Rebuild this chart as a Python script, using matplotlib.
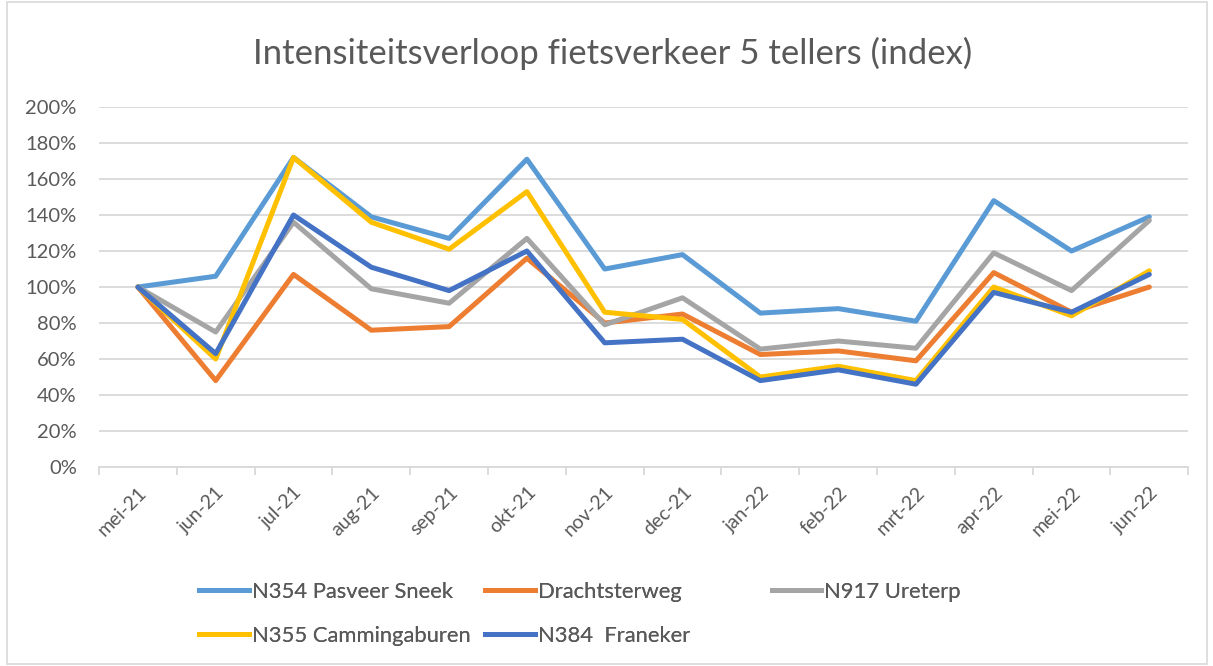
import matplotlib
matplotlib.use("Agg")
import matplotlib.pyplot as plt
from matplotlib.patches import Rectangle
from matplotlib.lines import Line2D

plt.rcParams['font.family'] = ['Lato', 'DejaVu Sans']

maanden = ["mei-21", "jun-21", "jul-21", "aug-21", "sep-21", "okt-21", "nov-21",
           "dec-21", "jan-22", "feb-22", "mrt-22", "apr-22", "mei-22", "jun-22"]

# index (100% = mei-21)
n354_pasveer_sneek = [100, 106, 172, 139, 127, 171, 110, 118, 85.5, 88, 81, 148, 120, 139]
drachtsterweg = [100, 48, 107, 76, 78, 116, 80, 85, 62.5, 64.5, 59, 108, 86, 100]
n917_ureterp = [100, 75, 136, 99, 91, 127, 79, 94, 65.5, 70, 66, 119, 98, 137]
n355_cammingaburen = [100, 60, 172, 136, 121, 153, 86, 82, 50, 56, 48, 100, 84, 109]
n384_franeker = [100, 63, 140, 111, 98, 120, 69, 71, 48, 54, 46, 97, 86, 107]

namen = ["N354 Pasveer Sneek", "Drachtsterweg", "N917 Ureterp",
         "N355 Cammingaburen", "N384  Franeker"]
reeksen = [n354_pasveer_sneek, drachtsterweg, n917_ureterp, n355_cammingaburen, n384_franeker]
kleuren = ["#5B9BD5", "#ED7D31", "#A5A5A5", "#FFC000", "#4472C4"]

fig = plt.figure(figsize=(12.13, 6.66), dpi=100)
ax = fig.add_axes([0.0816, 0.2988, 0.898, 0.5405])

x = list(range(len(maanden)))
for naam, vals, kl in zip(namen, reeksen, kleuren):
    ax.plot(x, vals, color=kl, lw=3.6, label=naam, solid_joinstyle='round', solid_capstyle='round')

ax.set_xlim(-0.5, len(maanden) - 0.5)
ax.set_ylim(0, 200)
ax.set_yticks(range(0, 201, 20))
ax.set_yticklabels([f"{v}%" for v in range(0, 201, 20)])
ax.set_xticks(x)
ax.set_xticklabels(maanden, rotation=45, ha='right', rotation_mode='anchor')
ax.set_xticks([i - 0.5 for i in range(len(maanden) + 1)], minor=True)
ax.tick_params(which='major', length=0, labelsize=14, colors="#595959")
ax.tick_params(axis='y', labelsize=14.5, pad=16)
ax.tick_params(axis='x', pad=12)
ax.tick_params(axis='x', which='minor', length=6, width=1.3, color="#D9D9D9")
ax.grid(axis='y', color="#D9D9D9", lw=1.3)
ax.set_axisbelow(True)
for s in ["top", "right", "left"]:
    ax.spines[s].set_visible(False)
ax.spines["bottom"].set_color("#D9D9D9")
ax.spines["bottom"].set_linewidth(1.3)

fig.suptitle("Intensiteitsverloop fietsverkeer 5 tellers (index)", x=0.505, y=0.944,
             fontsize=25, color="#595959")

# legend in 3 kolommen, rij voor rij (zoals Excel)
kolommen = [[0, 3], [1, 4], [2]]
xpos = [0.157, 0.393, 0.629]
for kol, xp in zip(kolommen, xpos):
    handles = [Line2D([], [], color=kleuren[i], lw=3.6) for i in kol]
    leg = fig.legend(handles, [namen[i] for i in kol], loc='upper left',
                     bbox_to_anchor=(xp, 0.14), bbox_transform=fig.transFigure,
                     frameon=False, fontsize=15.8, handlelength=2.25, handletextpad=0.15,
                     labelspacing=1.1, borderaxespad=0)
    for t in leg.get_texts():
        t.set_color("#595959")
    fig.add_artist(leg)

fig.patches.append(Rectangle((7 / 1213, 2 / 666), 1200 / 1213, 662 / 666, transform=fig.transFigure,
                             fill=False, edgecolor="#D9D9D9", lw=1.2))

fig.savefig("out.png", dpi=100)
